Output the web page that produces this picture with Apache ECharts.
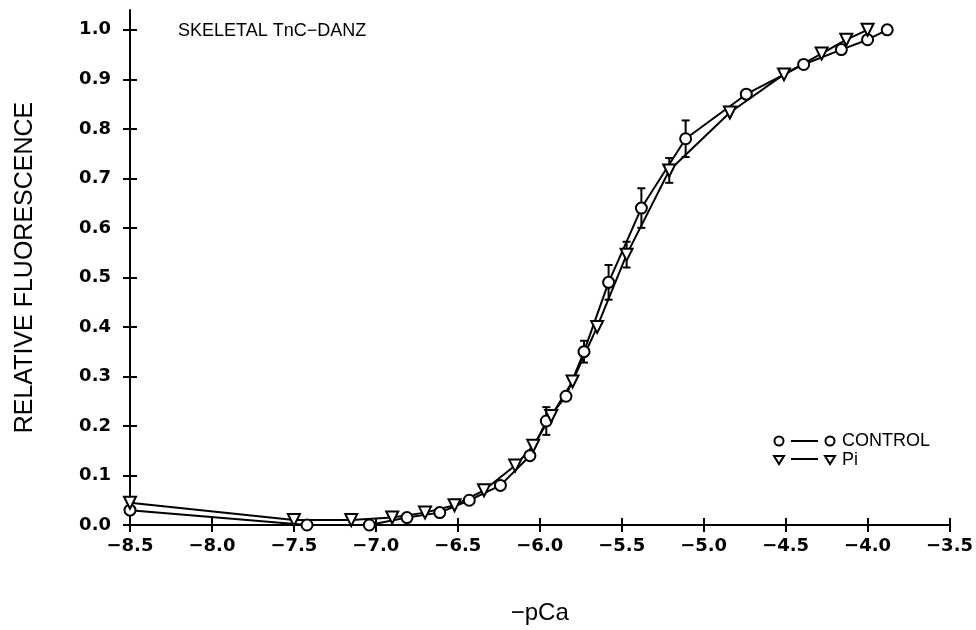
<!DOCTYPE html>
<html><head><meta charset="utf-8">
<script src="https://cdn.jsdelivr.net/npm/echarts@6/dist/echarts.min.js"></script>
<style>html,body{margin:0;padding:0;background:#fff}#chart{width:976px;height:630px}</style>
</head><body><div id="chart"></div>
<script>
// Ca2+ titration of skeletal TnC-DANZ: relative fluorescence vs -pCa
const controlPCa   = [-8.5, -7.42, -7.04, -6.81, -6.61, -6.43, -6.24, -6.06, -5.96, -5.84, -5.73, -5.58, -5.38, -5.11, -4.74, -4.39, -4.16, -4.0, -3.88];
const controlFluor = [0.03, 0.0, 0.0, 0.015, 0.025, 0.05, 0.08, 0.14, 0.21, 0.26, 0.35, 0.49, 0.64, 0.78, 0.87, 0.93, 0.96, 0.98, 1.0];
const controlErr   = [0, 0, 0, 0, 0, 0, 0, 0, 0.028, 0, 0.022, 0.035, 0.04, 0.037, 0, 0, 0, 0, 0];
const piPCa   = [-8.5, -7.5, -7.15, -6.9, -6.7, -6.52, -6.34, -6.15, -6.04, -5.93, -5.80, -5.65, -5.47, -5.21, -4.84, -4.51, -4.28, -4.13, -4.0];
const piFluor = [0.045, 0.01, 0.01, 0.015, 0.025, 0.04, 0.07, 0.12, 0.16, 0.22, 0.29, 0.40, 0.546, 0.716, 0.833, 0.91, 0.952, 0.98, 1.0];
const piErr   = [0, 0, 0, 0, 0, 0, 0, 0, 0, 0, 0, 0, 0.026, 0.025, 0, 0, 0, 0, 0];
const yTicks = [0, 0.1, 0.2, 0.3, 0.4, 0.5, 0.6, 0.7, 0.8, 0.9, 1.0];

const INK = '#000';
const tickFont = { color: INK, fontFamily: 'DejaVu Sans', fontWeight: 'bold', fontSize: 18 };

function pairs(xs, ys) { return xs.map((x, i) => [x, ys[i]]); }
function errRows(xs, ys, es) {
  return xs.map((x, i) => [x, ys[i], es[i]]).filter(r => r[2] > 0);
}
// vertical error bar with short caps at both ends
function errorBar(params, api) {
  const x = api.value(0), y = api.value(1), e = api.value(2);
  const lo = api.coord([x, y - e]), hi = api.coord([x, y + e]);
  const c = 4;
  const st = { stroke: INK, lineWidth: 2 };
  return { type: 'group', children: [
    { type: 'line', shape: { x1: lo[0], y1: lo[1], x2: hi[0], y2: hi[1] }, style: st },
    { type: 'line', shape: { x1: lo[0] - c, y1: lo[1], x2: lo[0] + c, y2: lo[1] }, style: st },
    { type: 'line', shape: { x1: hi[0] - c, y1: hi[1], x2: hi[0] + c, y2: hi[1] }, style: st }
  ]};
}
const fmtX = v => (v < 0 ? '\u2212' : '') + Math.abs(v).toFixed(1);

const chart = echarts.init(document.getElementById('chart'), null, { renderer: 'canvas' });
chart.setOption({
  animation: false,
  backgroundColor: '#fff',
  grid: { left: 130, right: 26, top: 10, bottom: 103 },
  xAxis: [
    { type: 'value', min: -8.5, max: -3.5, interval: 0.5, position: 'bottom',
      name: '\u2212pCa', nameLocation: 'middle', nameGap: 76,
      nameTextStyle: { color: INK, fontFamily: 'Liberation Sans', fontSize: 24 },
      axisLine: { lineStyle: { color: INK, width: 2 } },
      axisTick: { length: 7, lineStyle: { color: INK, width: 2 } },
      axisLabel: Object.assign({ margin: 12, formatter: fmtX }, tickFont),
      splitLine: { show: false } },
    { type: 'value', min: -8.5, max: -3.5, interval: 0.5, position: 'bottom',
      axisLine: { show: false },
      axisTick: { inside: true, length: 7, lineStyle: { color: INK, width: 2 } },
      axisLabel: { show: false }, splitLine: { show: false } }
  ],
  yAxis: [
    { type: 'value', min: 0, max: 1.04, position: 'left',
      name: 'RELATIVE FLUORESCENCE', nameLocation: 'middle', nameGap: 92,
      nameTextStyle: { color: INK, fontFamily: 'Liberation Sans', fontSize: 25 },
      axisLine: { show: true, lineStyle: { color: INK, width: 2 } },
      axisTick: { show: true, length: 7, customValues: yTicks, lineStyle: { color: INK, width: 2 } },
      axisLabel: Object.assign({ margin: 19, customValues: yTicks, formatter: v => v.toFixed(1) }, tickFont),
      splitLine: { show: false } },
    { type: 'value', min: 0, max: 1.04, position: 'left',
      axisLine: { show: false },
      axisTick: { show: true, inside: true, length: 7, customValues: yTicks, lineStyle: { color: INK, width: 2 } },
      axisLabel: { show: false }, splitLine: { show: false } }
  ],
  series: [
    { name: 'CONTROL', type: 'line', data: pairs(controlPCa, controlFluor),
      symbol: 'circle', symbolSize: 11, z: 3,
      lineStyle: { color: INK, width: 2 },
      itemStyle: { color: '#fff', borderColor: INK, borderWidth: 2 } },
    { name: 'Pi', type: 'line', data: pairs(piPCa, piFluor),
      symbol: 'triangle', symbolRotate: 180, symbolSize: 12, z: 3,
      lineStyle: { color: INK, width: 2 },
      itemStyle: { color: '#fff', borderColor: INK, borderWidth: 2 } },
    { type: 'custom', renderItem: errorBar, data: errRows(controlPCa, controlFluor, controlErr), z: 2 },
    { type: 'custom', renderItem: errorBar, data: errRows(piPCa, piFluor, piErr), z: 2 }
  ],
  graphic: [
    { type: 'text', left: 178, top: 22,
      style: { text: 'SKELETAL TnC\u2212DANZ', fill: INK, font: '18px "Liberation Sans"' } },
    { type: 'group', left: 773, top: 432, children: [
      { type: 'circle', shape: { cx: 5, cy: 9, r: 4.5 }, style: { fill: '#fff', stroke: INK, lineWidth: 2 } },
      { type: 'line', shape: { x1: 17, y1: 9, x2: 44, y2: 9 }, style: { stroke: INK, lineWidth: 2 } },
      { type: 'circle', shape: { cx: 56, cy: 9, r: 4.5 }, style: { fill: '#fff', stroke: INK, lineWidth: 2 } },
      { type: 'text', x: 68, y: 0, style: { text: 'CONTROL', fill: INK, font: '18px "Liberation Sans"' } },
      { type: 'polygon', shape: { points: [[0, 24], [10, 24], [5, 32]] }, style: { fill: '#fff', stroke: INK, lineWidth: 2 } },
      { type: 'line', shape: { x1: 17, y1: 27, x2: 44, y2: 27 }, style: { stroke: INK, lineWidth: 2 } },
      { type: 'polygon', shape: { points: [[51, 24], [61, 24], [56, 32]] }, style: { fill: '#fff', stroke: INK, lineWidth: 2 } },
      { type: 'text', x: 68, y: 19, style: { text: 'Pi', fill: INK, font: '18px "Liberation Sans"' } }
    ]}
  ]
});
</script>
</body></html>
